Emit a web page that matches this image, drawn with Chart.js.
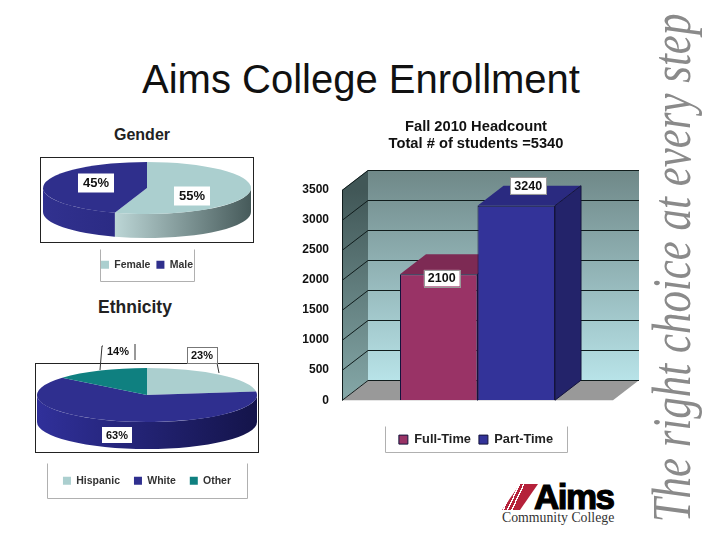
<!DOCTYPE html>
<html>
<head>
<meta charset="utf-8">
<title>Aims College Enrollment</title>
<script src="https://cdn.jsdelivr.net/npm/chart.js@4/dist/chart.umd.min.js"></script>
<style>
  body { margin: 0; width: 720px; height: 540px; background: #fff; overflow: hidden; position: relative; font-family: "Liberation Sans", Arial, sans-serif; }
  canvas { position: absolute; }
  .txt { position: absolute; white-space: nowrap; color: #000; }
  #main { left: 142px; top: 55px; font-size: 40px; line-height: 48px; color: #111; }
  #gender { left: 114px; top: 126px; font: bold 16px "Liberation Sans"; color: #222; }
  #ethnicity { left: 98px; top: 297px; font: bold 17.5px "Liberation Sans"; color: #222; }
  #tagline { left: 671px; top: 268px; transform: translate(-50%, -50%) rotate(-90deg) scaleX(0.78); font: italic 55px "Liberation Serif"; color: #8a8a8a; }
  #aims { left: 534px; top: 477px; font: bold 35px/40px "Liberation Sans"; letter-spacing: -1.5px; -webkit-text-stroke: 1.2px #000; }
  #community { left: 502px; top: 510px; font: 13.8px/16px "Liberation Serif"; color: #333; }
  #mark { position: absolute; left: 502px; top: 484px; width: 36px; height: 26px; background: linear-gradient(115deg, #b5213a 0 26%, #fff 26% 29%, #b5213a 29% 35%, #fff 35% 38%, #b5213a 38% 44%, #fff 44% 47%, #b5213a 47%); clip-path: polygon(50% 0, 100% 0, 50% 100%, 0 100%); }
</style>
</head>
<body>
<div class="txt" id="main">Aims College Enrollment</div>
<div class="txt" id="gender">Gender</div>
<div class="txt" id="ethnicity">Ethnicity</div>
<div class="txt" id="tagline">The right choice at every step</div>
<div id="mark"></div>
<div class="txt" id="aims">Aims</div>
<div class="txt" id="community">Community College</div>

<canvas id="genderChart" width="234" height="172" style="left:30px;top:120px"></canvas>
<canvas id="ethnicityChart" width="234" height="212" style="left:30px;top:295px"></canvas>
<canvas id="headcountChart" width="372" height="346" style="left:290px;top:110px"></canvas>

<script>
const GENDER_LABELS = ["Female", "Male"];
const GENDER_VALUES = [55, 45];
const ETHNICITY_LABELS = ["Hispanic", "White", "Other"];
const ETHNICITY_VALUES = [23, 63, 14];
const HEADCOUNT_SERIES = ["Full-Time", "Part-Time"];
const HEADCOUNT_VALUES = [2100, 3240];
const HEADCOUNT_TITLE = ["Fall 2010 Headcount", "Total # of students =5340"];

const FONT = "'Liberation Sans', Arial, sans-serif";
Chart.defaults.animation = false;
Chart.defaults.font.family = FONT;

// white value tag with the text centred on (x, y)
function tag(ctx, text, x, y, font, border, padX, padY) {
  ctx.save();
  ctx.font = font;
  const w = ctx.measureText(text).width + padX * 2;
  const h = parseFloat(font.match(/([\d.]+)px/)[1]) + padY * 2;
  ctx.fillStyle = "#fff";
  ctx.fillRect(x - w / 2, y - h / 2, w, h);
  if (border) {
    ctx.strokeStyle = border;
    ctx.lineWidth = 1;
    ctx.strokeRect(Math.round(x - w / 2) + 0.5, Math.round(y - h / 2) + 0.5, Math.round(w), Math.round(h));
  }
  ctx.fillStyle = "#111";
  ctx.textAlign = "center";
  ctx.textBaseline = "middle";
  ctx.fillText(text, x, y + 0.5);
  ctx.restore();
}

// open-topped frame round a legend
function legendFrame(chart, halfW, top, bottom) {
  const ctx = chart.ctx, mid = chart.width / 2 + 0.5;
  ctx.save();
  ctx.strokeStyle = "#b0b0b0";
  ctx.lineWidth = 1;
  ctx.beginPath();
  ctx.moveTo(mid - halfW, top);
  ctx.lineTo(mid - halfW, bottom);
  ctx.lineTo(mid + halfW, bottom);
  ctx.lineTo(mid + halfW, top);
  ctx.stroke();
  ctx.restore();
}

// Flattens the pie into an ellipse and puts a rim under it.
const pie3d = {
  id: "pie3d",
  beforeDatasetsDraw(chart, args, o) {
    const ctx = chart.ctx;
    const arcs = chart.getDatasetMeta(0).data;
    const cx = arcs[0].x, rx = arcs[0].outerRadius;
    ctx.save();
    ctx.strokeStyle = "#222";
    ctx.lineWidth = 1;
    ctx.strokeRect(o.panel[0] + 0.5, o.panel[1] + 0.5, o.panel[2], o.panel[3]);
    arcs.forEach((arc, i) => {
      const a0 = Math.max(arc.startAngle, 0), a1 = Math.min(arc.endAngle, Math.PI);
      if (a1 <= a0) return;
      const grad = ctx.createLinearGradient(cx + rx * Math.cos(a1), 0, cx + rx * Math.cos(a0), 0);
      grad.addColorStop(0, o.rim[i][0]);
      grad.addColorStop(1, o.rim[i][1]);
      ctx.beginPath();
      ctx.ellipse(cx, o.cy, rx, o.ry, 0, a0, a1);
      ctx.ellipse(cx, o.cy + o.depth, rx, o.ry, 0, a1, a0, true);
      ctx.closePath();
      ctx.fillStyle = grad;
      ctx.fill();
    });
    ctx.restore();
    ctx.save();
    ctx.translate(cx, o.cy);
    ctx.scale(1, o.ry / rx);
    ctx.translate(-cx, -arcs[0].y);
  },
  afterDatasetsDraw(chart, args, o) {
    const ctx = chart.ctx;
    ctx.restore();
    const arcs = chart.getDatasetMeta(0).data;
    const cx = arcs[0].x, vals = chart.data.datasets[0].data;
    ctx.save();
    ctx.strokeStyle = "#333";
    ctx.lineWidth = 1;
    (o.leaders || []).forEach((pts) => {
      ctx.beginPath();
      pts.forEach((p, k) => (k ? ctx.lineTo(cx + p[0], o.cy + p[1]) : ctx.moveTo(cx + p[0], o.cy + p[1])));
      ctx.stroke();
    });
    ctx.restore();
    vals.forEach((v, i) => {
      const t = o.tags[i];
      tag(ctx, v + "%", cx + t[0], o.cy + t[1], o.tagFont, t[2], o.tagPad[0], o.tagPad[1]);
    });
  },
  afterDraw(chart, args, o) {
    legendFrame(chart, o.legendHalf, o.legendBox[0] + 0.5, o.legendBox[1] + 0.5);
  },
};

function makePie(id, labels, values, colors, style, legendPad, legendLift) {
  return new Chart(document.getElementById(id), {
    type: "pie",
    data: { labels, datasets: [{ data: values, backgroundColor: colors, borderWidth: 0, clip: false }] },
    options: {
      responsive: false,
      radius: style.rx,
      layout: { padding: { bottom: legendLift } },
      plugins: {
        tooltip: { enabled: false },
        legend: {
          position: "bottom",
          labels: { boxWidth: 8, boxHeight: 8, padding: legendPad, color: "#333", font: { size: 10.5, weight: "bold" } },
        },
        pie3d: style,
      },
    },
    plugins: [pie3d],
  });
}

makePie("genderChart", GENDER_LABELS, GENDER_VALUES, ["#abcfcf", "#2f2f8c"], {
  rx: 104, ry: 26, cy: 68, depth: 24,
  panel: [10, 37, 213, 85],
  rim: [["#bcd6d6", "#465a5a"], ["#31318f", "#2b2b84"]],
  tags: [[45, 8], [-51, -5]],
  tagFont: "bold 13px " + FONT,
  tagPad: [5, 3],
  legendHalf: 47, legendBox: [129, 161],
}, 6, 12);

makePie("ethnicityChart", ETHNICITY_LABELS, ETHNICITY_VALUES, ["#abcfcf", "#2f2f8f", "#0f8080"], {
  rx: 110, ry: 27, cy: 100, depth: 27,
  panel: [5, 68, 223, 89],
  rim: [["#0f8080", "#0f8080"], ["#30309a", "#14144a"], ["#0f8080", "#0f8080"]],
  tags: [[55, -40, "#777"], [-30, 40], [-29, -44]],
  tagFont: "bold 11px " + FONT,
  tagPad: [4, 2.5],
  leaders: [
    [[-47, -25], [-45, -49], [-40, -49]],
    [[70, -32], [72, -22]],
    [[-12, -51], [-12, -35]],
  ],
  legendHalf: 100, legendBox: [168, 203],
}, 14, 11);

// Walls, floor and bar depth around the chart's flat plot area.
const box3d = {
  id: "box3d",
  beforeDatasetsDraw(chart, args, o) {
    const ctx = chart.ctx, a = chart.chartArea, y = chart.scales.y;
    const dx = o.dx, dy = o.dy;
    const left = a.left, right = a.right, top = a.top, bottom = a.bottom;
    ctx.save();

    let g = ctx.createLinearGradient(0, top + dy, 0, bottom + dy);
    g.addColorStop(0, "#6f8888");
    g.addColorStop(1, "#b8e3e8");
    ctx.fillStyle = g;
    ctx.fillRect(left + dx, top + dy, right - left, bottom - top);

    g = ctx.createLinearGradient(0, top, 0, bottom);
    g.addColorStop(0, "#415757");
    g.addColorStop(1, "#85a8a8");
    ctx.fillStyle = g;
    ctx.beginPath();
    ctx.moveTo(left, top);
    ctx.lineTo(left + dx, top + dy);
    ctx.lineTo(left + dx, bottom + dy);
    ctx.lineTo(left, bottom);
    ctx.closePath();
    ctx.fill();

    ctx.fillStyle = "#999";
    ctx.beginPath();
    ctx.moveTo(left, bottom);
    ctx.lineTo(right, bottom);
    ctx.lineTo(right + dx, bottom + dy);
    ctx.lineTo(left + dx, bottom + dy);
    ctx.closePath();
    ctx.fill();

    ctx.strokeStyle = "#101c1c";
    ctx.lineWidth = 1;
    y.ticks.forEach((t) => {
      const py = Math.round(y.getPixelForValue(t.value)) + 0.5;
      ctx.beginPath();
      ctx.moveTo(left, py);
      ctx.lineTo(left + dx, py + dy);
      ctx.lineTo(right + dx, py + dy);
      ctx.stroke();
    });
    ctx.beginPath();
    ctx.moveTo(left + 0.5, top);
    ctx.lineTo(left + 0.5, bottom);
    ctx.stroke();

    HEADCOUNT_SERIES.forEach((_, i) => {
      const bar = chart.getDatasetMeta(i).data[0];
      const l = bar.x - bar.width / 2, r = bar.x + bar.width / 2;
      ctx.strokeStyle = "#14143c";
      ctx.fillStyle = o.topColors[i];
      ctx.beginPath();
      ctx.moveTo(l, bar.y);
      ctx.lineTo(l + dx, bar.y + dy);
      ctx.lineTo(r + dx, bar.y + dy);
      ctx.lineTo(r, bar.y);
      ctx.closePath();
      ctx.fill();
      ctx.fillStyle = o.sideColors[i];
      ctx.beginPath();
      ctx.moveTo(r, bar.y);
      ctx.lineTo(r + dx, bar.y + dy);
      ctx.lineTo(r + dx, bottom + dy);
      ctx.lineTo(r, bottom);
      ctx.closePath();
      ctx.fill();
      ctx.stroke();
    });
    ctx.restore();
  },
  afterDatasetsDraw(chart, args, o) {
    HEADCOUNT_SERIES.forEach((_, i) => {
      const bar = chart.getDatasetMeta(i).data[0];
      const off = o.tagOffsets[i];
      tag(chart.ctx, String(HEADCOUNT_VALUES[i]), bar.x + off[0], bar.y + off[1], "bold 12.5px " + FONT, "#999", 4, 2);
    });
  },
  afterDraw(chart) {
    const top = Math.round(chart.legend.top) + 1.5;
    legendFrame(chart, 91, top, top + 26);
  },
};

new Chart(document.getElementById("headcountChart"), {
  type: "bar",
  data: {
    labels: ["Headcount"],
    datasets: HEADCOUNT_SERIES.map((name, i) => ({
      label: name,
      data: [HEADCOUNT_VALUES[i]],
      backgroundColor: ["#993366", "#333399"][i],
      borderColor: "#14143c",
      borderWidth: 1,
    })),
  },
  options: {
    responsive: false,
    layout: { padding: 0 },
    categoryPercentage: 0.572,
    barPercentage: 1,
    scales: {
      x: {
        afterFit: (s) => { s.height = 25; },
        grid: { display: false },
        border: { display: false },
        ticks: { display: false },
      },
      y: {
        min: 0,
        max: 3500,
        afterFit: (s) => { s.width = 52; },
        grid: { display: false },
        border: { display: false },
        ticks: { stepSize: 500, padding: 5, color: "#111", font: { size: 12, weight: "bold" }, callback: (v) => String(v) },
      },
      // keeps the title and legend centred on the plot
      spacer: {
        position: "right",
        afterFit: (s) => { s.width = 49; },
        grid: { display: false },
        border: { display: false },
        ticks: { display: false },
      },
    },
    plugins: {
      tooltip: { enabled: false },
      title: {
        display: true,
        text: HEADCOUNT_TITLE,
        color: "#111",
        font: { size: 14.7, weight: "bold", lineHeight: 1.16 },
        padding: { top: 8, bottom: 38 },
      },
      legend: {
        position: "bottom",
        labels: { boxWidth: 9, boxHeight: 9, padding: 8, color: "#222", font: { size: 12.8, weight: "bold" } },
      },
      box3d: {
        dx: 26,
        dy: -20,
        topColors: ["#7d2a54", "#2a2a80"],
        sideColors: ["#7d2a54", "#23236a"],
        tagOffsets: [[3, 4], [12, -20]],
      },
    },
  },
  plugins: [box3d],
});
</script>
</body>
</html>
